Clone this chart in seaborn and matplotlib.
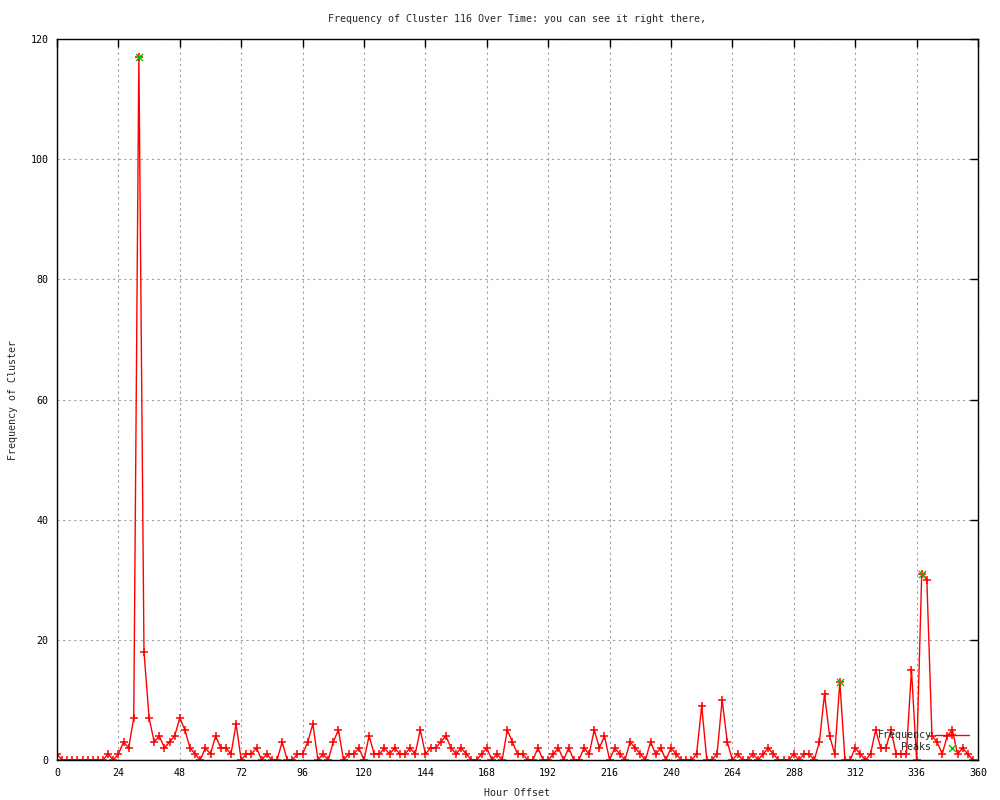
import matplotlib
matplotlib.use("Agg")
import matplotlib.pyplot as plt
import seaborn as sns

# hour offsets (every 2 hours) and cluster counts
hours = list(range(0, 360, 2))
frequency = [
    1, 0, 0, 0, 0, 0, 0, 0, 0, 0, 1, 0,
    1, 3, 2, 7, 117, 18, 7, 3, 4, 2, 3, 4,
    7, 5, 2, 1, 0, 2, 1, 4, 2, 2, 1, 6,
    0, 1, 1, 2, 0, 1, 0, 0, 3, 0, 0, 1,
    1, 3, 6, 0, 1, 0, 3, 5, 0, 1, 1, 2,
    0, 4, 1, 1, 2, 1, 2, 1, 1, 2, 1, 5,
    1, 2, 2, 3, 4, 2, 1, 2, 1, 0, 0, 1,
    2, 0, 1, 0, 5, 3, 1, 1, 0, 0, 2, 0,
    0, 1, 2, 0, 2, 0, 0, 2, 1, 5, 2, 4,
    0, 2, 1, 0, 3, 2, 1, 0, 3, 1, 2, 0,
    2, 1, 0, 0, 0, 1, 9, 0, 0, 1, 10, 3,
    0, 1, 0, 0, 1, 0, 1, 2, 1, 0, 0, 0,
    1, 0, 1, 1, 0, 3, 11, 4, 1, 13, 0, 0,
    2, 1, 0, 1, 5, 2, 2, 5, 1, 1, 1, 15,
    0, 31, 30, 4, 3, 1, 4, 5, 1, 2, 1, 0,
]
peak_hours = [32, 306, 338]
peak_values = [117, 13, 31]

x_ticks = list(range(0, 361, 24))
y_ticks = list(range(0, 121, 20))

sns.set_style("white")
plt.rcParams["font.family"] = ["DejaVu Sans Mono"]
plt.rcParams["font.size"] = 7.2

fig = plt.figure(figsize=(10, 8), dpi=100)
ax = fig.add_axes([0.057, 0.05, 0.921, 0.90125])

sns.lineplot(x=hours, y=frequency, ax=ax, color="red", linewidth=1,
             marker="+", markersize=6, markeredgewidth=1.1,
             markeredgecolor="red", label="Frequency")
sns.scatterplot(x=peak_hours, y=peak_values, ax=ax, color="#00c000",
                marker="x", s=25, linewidth=1, label="Peaks", zorder=3)

ax.set_xlim(0, 360)
ax.set_ylim(0, 120)
ax.set_xticks(x_ticks)
ax.set_yticks(y_ticks)
ax.grid(True, color="#a0a0a0", linestyle=(0, (2, 3)), linewidth=0.8)
ax.tick_params(direction="in", length=6, width=1, top=True, right=True,
               colors="black", labelsize=7.2, pad=6)
for s in ax.spines.values():
    s.set_color("black")
    s.set_linewidth(1)

ax.set_title("Frequency of Cluster 116 Over Time: you can see it right there,",
             fontsize=7.2, pad=12)
ax.set_xlabel("Hour Offset", fontsize=7.2, labelpad=7)
ax.set_ylabel("Frequency of Cluster", fontsize=7.2, labelpad=9)

ax.legend(loc="lower right", bbox_to_anchor=(0.995, 0.005), frameon=False,
          markerfirst=False, handlelength=3.4, labelspacing=0.2,
          borderaxespad=0, handletextpad=0.4, fontsize=7.2)

fig.savefig("out.png", dpi=100)
